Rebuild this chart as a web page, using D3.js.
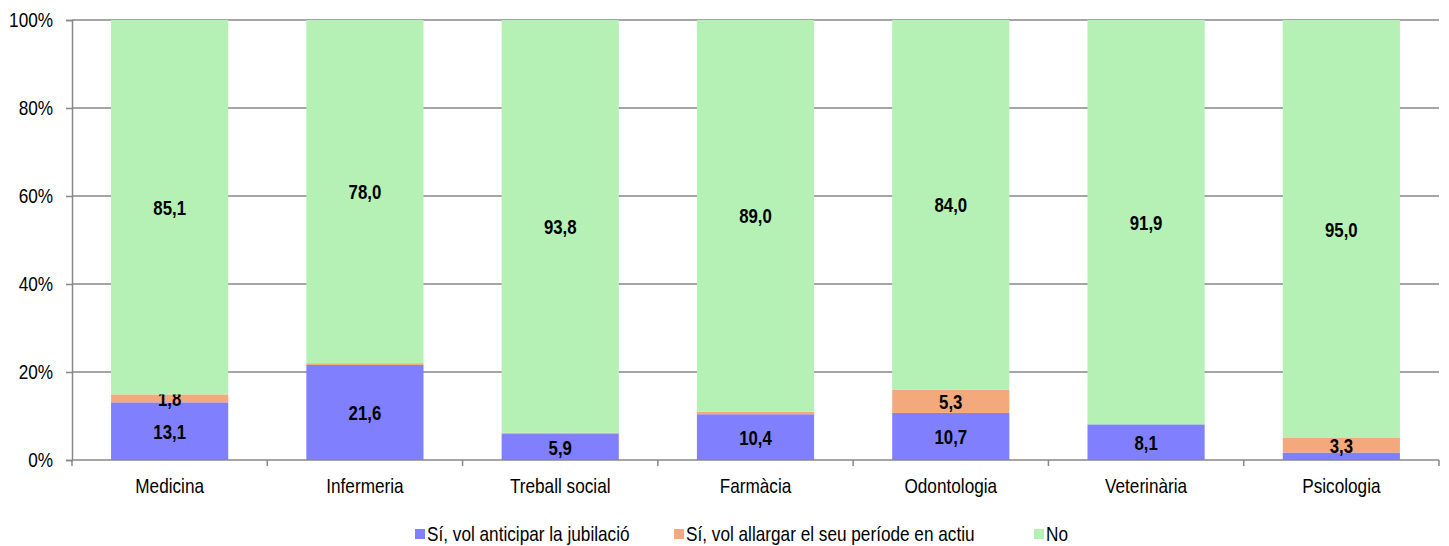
<!DOCTYPE html>
<html>
<head>
<meta charset="utf-8">
<script src="https://cdn.jsdelivr.net/npm/d3@7"></script>
<style>
  body { margin: 0; background: #fff; }
  text { font-family: "Liberation Sans Narrow", "Arial Narrow", "Liberation Sans", sans-serif; fill: #000; }
</style>
</head>
<body>
<div id="chart"></div>
<script>
// categories and series (percent)
const categories = ["Medicina", "Infermeria", "Treball social", "Farmàcia", "Odontologia", "Veterinària", "Psicologia"];
const anticipar = [13.1, 21.6, 5.9, 10.4, 10.7, 8.1, 1.7];
const allargar = [1.8, 0.4, 0.3, 0.6, 5.3, 0.0, 3.3];
const no = [85.1, 78.0, 93.8, 89.0, 84.0, 91.9, 95.0];
const seriesNames = ["Sí, vol anticipar la jubilació", "Sí, vol allargar el seu període en actiu", "No"];
const yTicks = [0, 20, 40, 60, 80, 100];

const COLORS = ["#8080ff", "#f4a97d", "#b5f1b5"];
const WIDTH = 1449, HEIGHT = 546;
const MARGIN = { TOP: 20, RIGHT: 10, BOTTOM: 86, LEFT: 72 };
// no narrow font installed, so squeeze the text horizontally
const NARROW = "scale(0.86,1)";

const svg = d3.select("#chart").append("svg")
  .attr("width", WIDTH)
  .attr("height", HEIGHT);

const x = d3.scaleBand()
  .domain(categories)
  .range([MARGIN.LEFT, WIDTH - MARGIN.RIGHT])
  .paddingInner(0.4)
  .paddingOuter(0.2);

const y = d3.scaleLinear()
  .domain([0, 100])
  .range([HEIGHT - MARGIN.BOTTOM, MARGIN.TOP]);

// gridlines
svg.append("g")
  .selectAll("line")
  .data(yTicks.slice(1))
  .join("line")
  .attr("x1", MARGIN.LEFT)
  .attr("x2", WIDTH - MARGIN.RIGHT)
  .attr("y1", d => y(d))
  .attr("y2", d => y(d))
  .attr("stroke", "#878787")
  .attr("stroke-width", 1.5);

// stacked data
const rows = categories.map((c, i) => ({ cat: c, s0: anticipar[i], s1: allargar[i], s2: no[i] }));
const stack = d3.stack().keys(["s0", "s1", "s2"])(rows);

const layers = svg.append("g")
  .selectAll("g")
  .data(stack)
  .join("g")
  .attr("fill", (d, i) => COLORS[i]);

layers.selectAll("rect")
  .data(d => d)
  .join("rect")
  .attr("x", d => x(d.data.cat))
  .attr("width", x.bandwidth())
  .attr("y", d => y(d[1]))
  .attr("height", d => y(d[0]) - y(d[1]));

// value labels (small slices are not labelled)
layers.selectAll("text")
  .data(d => d.filter(p => p[1] - p[0] >= 1.75))
  .join("text")
  .attr("transform", d => `translate(${x(d.data.cat) + x.bandwidth() / 2},${y((d[0] + d[1]) / 2)}) scale(0.8,1)`)
  .attr("dy", "0.36em")
  .attr("text-anchor", "middle")
  .style("font-weight", "bold")
  .style("font-size", "21px")
  .text(d => d3.format(".1f")(d[1] - d[0]).replace(".", ","));

// y axis
const yAxis = svg.append("g")
  .attr("transform", `translate(${MARGIN.LEFT},0)`)
  .call(d3.axisLeft(y).tickValues(yTicks).tickSize(6).tickPadding(16).tickFormat(d => d + "%"));
yAxis.select(".domain").attr("stroke", "#878787").attr("stroke-width", 1.5);
yAxis.selectAll(".tick line").attr("stroke", "#878787").attr("stroke-width", 1.5);
yAxis.selectAll("text").style("font-size", "20px").attr("transform", NARROW);

// x axis
const xAxis = svg.append("g")
  .attr("transform", `translate(0,${y(0)})`)
  .call(d3.axisBottom(x).tickSize(0).tickPadding(19));
xAxis.select(".domain").remove();
xAxis.selectAll("text").style("font-size", "20px").attr("transform", NARROW);

svg.append("line")
  .attr("x1", MARGIN.LEFT).attr("x2", WIDTH - MARGIN.RIGHT)
  .attr("y1", y(0)).attr("y2", y(0))
  .attr("stroke", "#878787").attr("stroke-width", 1.5);

// category separator ticks
const step = x.step();
svg.append("g")
  .selectAll("line")
  .data(d3.range(categories.length + 1))
  .join("line")
  .attr("x1", i => MARGIN.LEFT + i * step)
  .attr("x2", i => MARGIN.LEFT + i * step)
  .attr("y1", y(0))
  .attr("y2", y(0) + 6)
  .attr("stroke", "#878787")
  .attr("stroke-width", 1.5);

// legend
const legendX = [415, 674, 1034];
const legend = svg.append("g")
  .selectAll("g")
  .data(seriesNames)
  .join("g")
  .attr("transform", (d, i) => `translate(${legendX[i]},529)`);
legend.append("rect")
  .attr("width", 10).attr("height", 10)
  .attr("fill", (d, i) => COLORS[i]);
legend.append("text")
  .attr("transform", `translate(12,5) ${NARROW}`)
  .attr("dy", "0.36em")
  .style("font-size", "20px")
  .text(d => d);
</script>
</body>
</html>
